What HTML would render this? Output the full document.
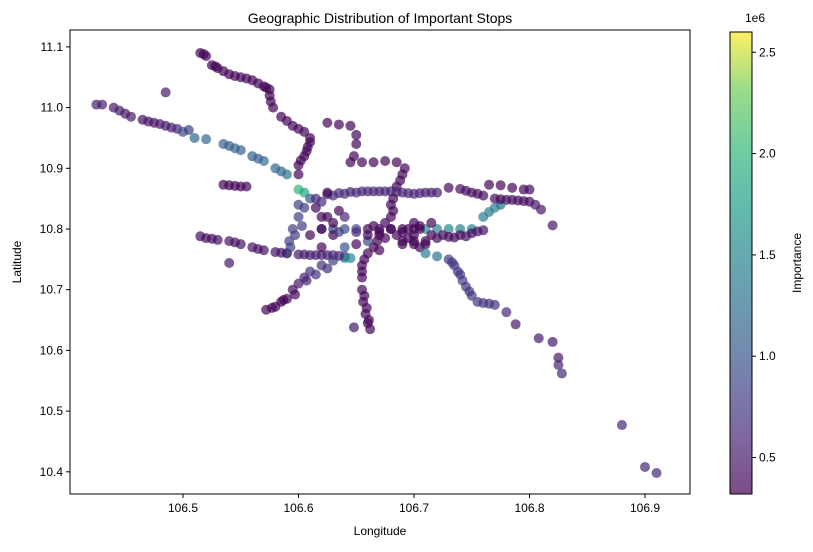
<!DOCTYPE html>
<html><head><meta charset="utf-8">
<style>
body{margin:0;background:#fff;font-family:"Liberation Sans",sans-serif;}
svg text{font-family:"Liberation Sans",sans-serif;fill:#000;}
</style></head>
<body>
<svg id="chart" width="813" height="547" xmlns="http://www.w3.org/2000/svg">
<defs>
<linearGradient id="cbg" x1="0" y1="1" x2="0" y2="0">
<stop offset="0" stop-color="#440154"/><stop offset="0.125" stop-color="#482878"/>
<stop offset="0.25" stop-color="#3e4989"/><stop offset="0.375" stop-color="#31688e"/>
<stop offset="0.5" stop-color="#26828e"/><stop offset="0.625" stop-color="#1f9e89"/>
<stop offset="0.75" stop-color="#35b779"/><stop offset="0.875" stop-color="#6ece58"/>
<stop offset="1" stop-color="#fde725"/>
</linearGradient>
</defs>
<text x="380" y="23" font-size="14" text-anchor="middle">Geographic Distribution of Important Stops</text>
<g id="points"></g>
<rect x="70" y="30" width="620" height="464" fill="none" stroke="#000" stroke-width="1"/>
<g id="xticks"></g>
<g id="yticks"></g>
<text x="380" y="535" font-size="12" text-anchor="middle">Longitude</text>
<text transform="translate(21,262) rotate(-90)" font-size="12" text-anchor="middle">Latitude</text>
<rect x="730" y="32" width="22" height="462" fill="url(#cbg)" fill-opacity="0.7" stroke="#000" stroke-width="1"/>
<g id="cticks"></g>
<text x="745" y="22" font-size="12">1e6</text>
<text transform="translate(801,263) rotate(-90)" font-size="12" text-anchor="middle">Importance</text>
</svg>
<script>
const xTicks=[106.5,106.6,106.7,106.8,106.9];
const yTicks=[10.4,10.5,10.6,10.7,10.8,10.9,11.0,11.1];
const cTicks=[0.5,1.0,1.5,2.0,2.5];
const lons=[
106.425,106.43,106.445,106.45,106.455,106.465,106.475,106.48,106.485,106.49,106.495,106.5,106.485,
106.51,106.52,106.535,106.545,106.55,106.56,106.57,106.58,106.59,106.6,106.605,
106.515,106.52,106.525,106.53,106.535,106.54,106.55,106.56,106.565,106.57,106.575,106.575,106.578,106.585,106.595,106.605,106.61,106.608,106.605,106.6,106.6,
106.535,106.54,106.545,106.55,106.555,
106.62,106.63,106.64,106.65,106.66,106.67,106.68,106.69,106.7,106.71,106.72,
106.73,106.74,106.75,106.76,106.77,106.78,106.79,106.8,106.765,106.775,106.785,106.795,106.8,106.805,106.81,106.82,
106.71,106.72,106.73,106.74,106.75,106.76,106.765,106.77,106.775,
106.73,106.735,106.74,106.745,106.75,106.755,106.765,106.77,106.78,106.788,106.808,106.82,106.825,106.825,106.828,106.88,106.9,106.91,
106.515,106.52,106.53,106.54,106.55,106.56,106.57,106.58,106.59,106.6,106.61,106.62,106.63,106.64,106.64,106.645,106.54,
106.572,106.58,106.585,106.59,106.595,106.6,106.605,106.61,106.62,106.63,
106.59,106.592,106.595,106.6,106.605,106.61,106.6,
106.62,106.63,106.64,106.65,106.66,106.67,106.68,106.69,106.7,106.625,106.635,106.67,106.69,
106.66,106.655,106.655,106.655,106.656,106.658,106.66,106.662,106.648,106.665,106.668,
106.68,106.68,106.685,106.69,106.692,106.685,106.645,106.655,106.665,106.675,106.625,106.635,106.645,106.65,106.65,106.648,
106.695,106.7,106.7,106.705,106.71,106.715,106.715,106.705,106.69,106.685,106.675,106.71,106.72,106.66,106.64,106.62,106.61,
106.72,106.73,106.74,106.75,106.76,106.62,106.63,106.65,106.67,106.7,106.64,
106.518,106.528,106.545,106.555,106.572,106.576,106.59,106.6,106.61,106.607,106.602,
106.44,106.47,106.505,106.54,106.565,106.585,
106.615,106.625,106.635,106.645,106.655,106.665,106.675,106.685,106.695,106.705,106.715,
106.745,106.755,106.775,106.785,106.795,
106.525,106.545,106.565,106.585,106.605,106.615,106.625,106.635,
106.577,106.587,106.597,106.607,106.615,106.625,
106.657,106.655,106.657,106.659,106.661,106.682,106.682,106.688,
106.69,106.695,106.7,106.705,106.71,106.675,106.68,106.67,106.665,106.66,106.65,106.63,106.635,
106.733,106.738,106.742,106.748,106.76,106.725,106.735,106.745,106.755,
106.593,106.597,106.603,106.615,106.625,106.62
];
const lats=[
11.005,11.005,10.995,10.99,10.985,10.98,10.975,10.973,10.97,10.967,10.965,10.96,11.025,
10.95,10.948,10.94,10.933,10.93,10.92,10.912,10.9,10.89,10.865,10.86,
11.09,11.085,11.07,11.065,11.06,11.055,11.05,11.045,11.04,11.035,11.03,11.02,11.0,10.985,10.97,10.96,10.95,10.935,10.92,10.905,10.89,
10.873,10.872,10.871,10.87,10.87,
10.845,10.855,10.858,10.86,10.862,10.862,10.862,10.86,10.858,10.86,10.86,
10.868,10.866,10.86,10.855,10.85,10.848,10.847,10.845,10.873,10.872,10.868,10.865,10.865,10.84,10.832,10.806,
10.8,10.8,10.8,10.8,10.8,10.82,10.828,10.835,10.84,
10.75,10.74,10.725,10.705,10.69,10.68,10.677,10.675,10.663,10.643,10.62,10.614,10.588,10.576,10.562,10.477,10.408,10.398,
10.788,10.785,10.782,10.78,10.775,10.77,10.765,10.762,10.76,10.758,10.757,10.757,10.757,10.755,10.752,10.752,10.744,
10.667,10.672,10.68,10.685,10.7,10.71,10.72,10.73,10.74,10.748,
10.76,10.78,10.8,10.82,10.835,10.85,10.84,
10.8,10.8,10.8,10.8,10.8,10.8,10.8,10.8,10.8,10.82,10.83,10.79,10.78,
10.76,10.74,10.72,10.7,10.68,10.66,10.645,10.635,10.638,10.77,10.78,
10.82,10.84,10.87,10.89,10.9,10.91,10.91,10.91,10.91,10.912,10.975,10.972,10.97,10.955,10.94,10.92,
10.8,10.79,10.78,10.77,10.775,10.79,10.81,10.805,10.775,10.79,10.785,10.76,10.755,10.78,10.77,10.8,10.79,
10.785,10.787,10.79,10.793,10.798,10.77,10.79,10.775,10.765,10.81,10.82,
11.088,11.068,11.052,11.048,11.033,11.01,10.978,10.965,10.943,10.928,10.913,
11.0,10.977,10.963,10.937,10.916,10.895,
10.85,10.857,10.859,10.861,10.862,10.862,10.862,10.861,10.859,10.859,10.86,
10.863,10.858,10.849,10.848,10.846,
10.784,10.778,10.767,10.761,10.758,10.757,10.757,10.756,
10.67,10.683,10.692,10.715,10.725,10.735,
10.75,10.73,10.69,10.67,10.65,10.83,10.85,10.88,
10.795,10.785,10.775,10.8,10.78,10.81,10.8,10.795,10.805,10.79,10.795,10.81,10.795,
10.745,10.73,10.715,10.697,10.678,10.79,10.786,10.788,10.796,
10.77,10.79,10.805,10.835,10.86,10.82
];
const imps=[
0.55,0.55,0.5,0.5,0.5,0.45,0.45,0.5,0.5,0.55,0.6,0.9,0.5,
1.2,1.2,1.1,1.2,1.1,1.1,1.2,1.2,1.3,2.0,1.8,
0.35,0.35,0.35,0.35,0.35,0.35,0.35,0.35,0.35,0.35,0.35,0.35,0.35,0.35,0.35,0.35,0.35,0.35,0.35,0.35,0.35,
0.35,0.35,0.35,0.35,0.35,
0.6,0.65,0.65,0.65,0.6,0.6,0.6,0.6,0.6,0.6,0.55,
0.4,0.4,0.4,0.4,0.4,0.4,0.4,0.4,0.35,0.35,0.35,0.4,0.4,0.5,0.5,0.5,
1.5,1.5,1.5,1.5,1.5,1.4,1.4,1.4,1.3,
0.75,0.75,0.75,0.75,0.75,0.75,0.7,0.7,0.6,0.5,0.5,0.5,0.5,0.6,0.6,0.6,0.6,0.6,
0.4,0.4,0.45,0.45,0.45,0.45,0.45,0.45,0.5,0.5,0.55,0.55,0.6,0.8,1.5,1.5,0.5,
0.35,0.35,0.35,0.35,0.4,0.5,0.6,0.7,0.7,0.8,
0.8,0.8,0.8,0.8,0.8,1.0,0.8,
0.9,0.9,0.9,0.9,0.35,0.35,0.35,0.35,0.4,0.35,0.35,0.35,0.35,
0.35,0.35,0.35,0.35,0.35,0.35,0.35,0.35,0.5,0.35,0.35,
0.35,0.35,0.35,0.35,0.35,0.35,0.35,0.35,0.35,0.35,0.35,0.35,0.35,0.35,0.35,0.35,
0.35,0.35,0.35,0.35,0.35,0.35,0.35,0.35,0.35,0.35,0.35,1.4,1.3,0.9,1.0,0.35,0.35,
0.4,0.4,0.4,0.45,0.45,0.35,0.35,0.35,0.35,0.35,0.6,
0.35,0.35,0.35,0.35,0.35,0.35,0.35,0.35,0.35,0.35,0.35,
0.5,0.45,0.8,1.1,1.1,1.2,
0.6,0.65,0.65,0.6,0.6,0.6,0.6,0.6,0.6,0.6,0.55,
0.4,0.4,0.35,0.4,0.4,
0.4,0.45,0.45,0.45,0.5,0.55,0.55,0.6,
0.35,0.35,0.4,0.6,0.7,0.7,
0.35,0.35,0.35,0.35,0.35,0.35,0.35,0.35,
0.35,0.35,0.35,0.35,0.35,0.35,0.35,0.35,0.35,0.35,0.6,0.35,0.8,
0.75,0.75,0.75,0.75,0.7,0.4,0.4,0.45,0.45,
0.8,0.8,0.8,0.35,0.35,0.35
];
const NS='http://www.w3.org/2000/svg';
const x=v=>183+(v-106.5)*1155;
const y=v=>229-(v-10.8)*607;
const cmin=0.32,cmax=2.6;
const cy=v=>494-(v-cmin)/(cmax-cmin)*462;
const vir=[[68,1,84],[72,40,120],[62,73,137],[49,104,142],[38,130,142],[31,158,137],[53,183,121],[110,206,88],[253,231,37]];
function color(v){let t=Math.max(0,Math.min(1,(v-cmin)/(cmax-cmin)))*8;let i=Math.min(7,Math.floor(t)),f=t-i;
const a=vir[i],b=vir[i+1];return 'rgb('+a.map((c,k)=>Math.round(c+(b[k]-c)*f)).join(',')+')';}
function mk(tag,attrs,parent){const e=document.createElementNS(NS,tag);for(const k in attrs)e.setAttribute(k,attrs[k]);parent.appendChild(e);return e;}
const pts=document.getElementById('points');
for(let i=0;i<lons.length;i++){
  const c=mk('circle',{cx:x(lons[i]),cy:y(lats[i]),r:5,fill:color(imps[i]),'fill-opacity':0.7},pts);
  
  
}
const xt=document.getElementById('xticks');
xTicks.forEach(v=>{
  const l=mk('line',{x1:x(v),x2:x(v),y1:494,y2:498,stroke:'#000'},xt);
  
  
  const t=mk('text',{x:x(v),y:512,'font-size':12,'text-anchor':'middle'},xt);t.textContent=v.toFixed(1);
  
  
});
const yt=document.getElementById('yticks');
yTicks.forEach(v=>{
  const l=mk('line',{x1:66,x2:70,y1:y(v),y2:y(v),stroke:'#000'},yt);
  
  
  const t=mk('text',{x:63,y:y(v)+4,'font-size':12,'text-anchor':'end'},yt);t.textContent=v.toFixed(1);
  
  
});
const ct=document.getElementById('cticks');
cTicks.forEach(v=>{
  const l=mk('line',{x1:752,x2:756,y1:cy(v),y2:cy(v),stroke:'#000'},ct);
  
  
  const t=mk('text',{x:759,y:cy(v)+4,'font-size':12},ct);t.textContent=v.toFixed(1);
  
  
});
</script>
</body></html>
